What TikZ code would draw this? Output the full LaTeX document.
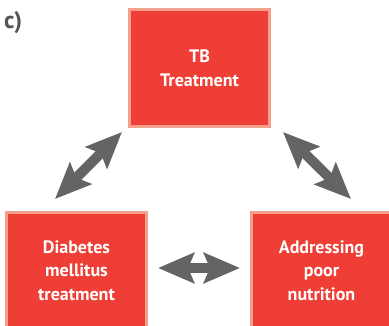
\documentclass[tikz,border=0pt]{standalone}
\usepackage{fontspec}
\setmainfont{PT Sans}
\usepackage{xcolor}
\usetikzlibrary{arrows.meta}
\definecolor{boxred}{HTML}{EF3E36}
\definecolor{boxedge}{HTML}{F4A08C}
\definecolor{arrowgray}{HTML}{636466}
\tikzset{
	carebox/.style={
			draw=boxedge, line width=3pt, fill=boxred,
			minimum width=140pt, minimum height=117pt, inner sep=0pt,
			align=center, text=white, font=\fontsize{18}{23.5}\selectfont\bfseries
		},
	twoway/.style={
			draw=arrowgray, line width=10pt,
			{Stealth[length=36pt,width=30pt,inset=6pt]}-{Stealth[length=36pt,width=30pt,inset=6pt]}
		}
}

\begin{document}
\begin{tikzpicture}[x=1pt,y=-1pt]
    \useasboundingbox (0,0) rectangle (389,325);
    \clip (0,0) rectangle (389,325);
    \node[anchor=north west,text=arrowgray!85!black,font=\fontsize{24}{24}\selectfont\bfseries,inner sep=0pt] (tag) at (4,11) {c)};
    \node[carebox] (tb) at (199.5,68) {TB\\Treatment};
    \node[carebox] (dm) at (76.5,270.5) {Diabetes\\mellitus\\treatment};
    \node[carebox] (nut) at (321.5,270.5) {Addressing\\poor\\nutrition};
    \coordinate (tbL) at (122,132);
    \coordinate (dmT) at (55,199);
    \coordinate (tbR) at (283,132);
    \coordinate (nutT) at (351,199);
    \coordinate (dmR) at (158,268);
    \coordinate (nutL) at (240,268);
    \draw[twoway] (tbL) -- (dmT);
    \draw[twoway] (tbR) -- (nutT);
    \draw[twoway] (dmR) -- (nutL);
\end{tikzpicture}
\end{document}
